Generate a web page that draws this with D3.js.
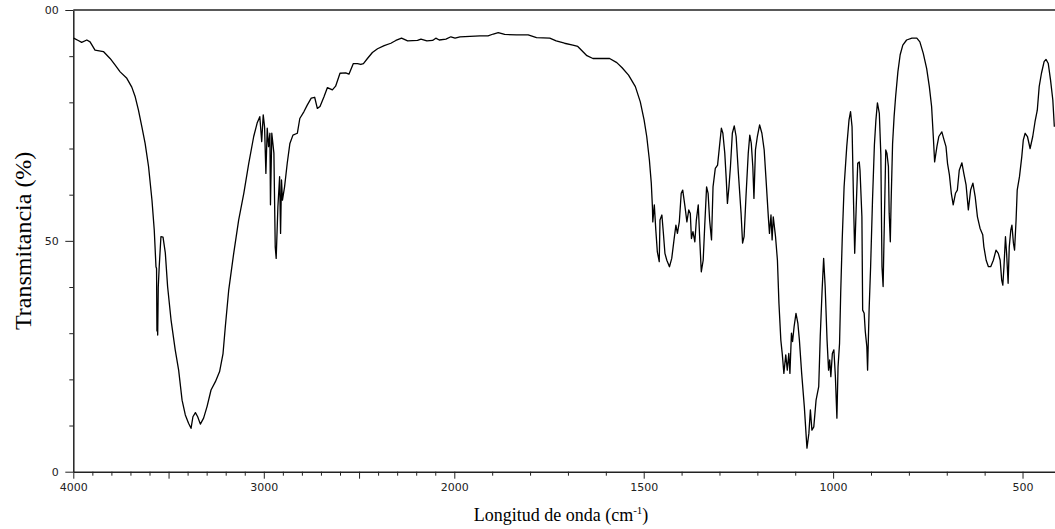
<!DOCTYPE html>
<html>
<head>
<meta charset="utf-8">
<script src="https://cdn.jsdelivr.net/npm/d3@7"></script>
<style>
  body { margin: 0; background: #fff; }
  svg { display: block; }
</style>
</head>
<body>
<div id="chart"></div>
<script>
// IR spectrum (cm-1, %T)
const wavenumber = [
  3998,3974,3956,3929,3912,3886,3842,3807,3781,3754,3719,3693,3675,3658,3640,3623,3605,3587,3575,3566,
  3563,3561,3559,3557,3554,3549,3540,3529,3517,3505,3487,3465,3447,3429,3412,3395,3382,3372,3359,3347,
  3333,3316,3298,3277,3254,3232,3214,3202,3184,3158,3132,3105,3079,3053,3035,3021,3011,3003,2996,2989,
  2982,2975,2968,2965,2958,2947,2940,2935,2926,2917,2912,2907,2902,2891,2877,2863,2847,2824,2811,2789,
  2772,2751,2733,2719,2705,2684,2666,2640,2623,2600,2570,2553,2530,2508,2491,2477,2456,2430,2403,2368,
  2333,2307,2277,2245,2193,2175,2144,2114,2097,2079,2044,2018,1998,1985,1932,1911,1897,1884,1867,1836,
  1805,1783,1748,1731,1709,1687,1674,1661,1650,1634,1590,1571,1557,1540,1522,1509,1499,1492,1485,1480,
  1477,1476,1472,1468,1464,1459,1457,1452,1448,1444,1439,1432,1426,1420,1415,1411,1406,1401,1397,1391,
  1386,1381,1377,1374,1370,1365,1361,1356,1352,1348,1343,1339,1334,1330,1326,1321,1317,1311,1305,1300,
  1295,1291,1286,1282,1279,1275,1271,1266,1261,1256,1250,1243,1239,1235,1230,1224,1220,1216,1212,1209,
  1205,1200,1194,1188,1182,1177,1171,1168,1164,1161,1158,1152,1147,1143,1138,1134,1130,1125,1121,1117,
  1114,1110,1107,1103,1098,1093,1089,1083,1076,1071,1069,1064,1060,1056,1051,1045,1038,1034,1029,1025,
  1021,1016,1012,1009,1006,1002,998,994,990,987,983,980,976,971,964,958,954,950,946,943,
  939,935,931,929,924,922,918,915,911,909,905,901,896,891,887,883,878,874,871,868,
  866,861,858,854,852,849,847,843,839,835,829,823,816,806,792,779,771,762,753,746,
  740,735,732,726,721,713,707,702,698,693,688,683,677,672,667,660,655,649,643,637,
  631,625,619,612,605,602,596,590,584,577,570,564,559,555,552,549,545,542,538,535,
  531,528,524,521,517,514,508,502,498,493,487,480,473,467,461,456,450,443,438,432,
  426,420,416
];
const transmittance = [
  93.9,93.4,93.0,93.5,93.1,91.3,91.0,89.5,88.1,86.6,85.2,83.3,81.2,78.3,74.7,71.1,66.1,58.8,52.3,44.4,
  44.0,30.5,33.0,29.6,40.0,44.4,50.9,50.8,47.4,40.1,32.9,26.4,22.0,15.5,12.3,10.5,9.4,11.9,12.8,11.9,
  10.3,11.6,14.1,17.7,19.5,21.7,25.6,31.4,39.4,47.3,54.5,60.3,66.8,72.6,75.5,76.9,71.5,77.3,74.7,64.6,
  74.4,70.4,73.3,57.8,73.3,69.0,48.7,46.2,57.4,63.9,51.6,63.2,58.8,61.7,66.8,71.1,72.9,73.3,76.5,78.0,
  79.4,80.9,81.1,78.7,79.1,81.2,83.2,82.7,83.5,86.3,86.4,86.1,88.4,88.4,88.2,88.4,89.5,90.8,91.6,92.3,
  92.8,93.4,93.9,93.3,93.4,93.7,93.3,93.4,93.9,93.5,93.7,94.2,93.9,94.2,94.4,94.4,94.8,95.1,94.7,94.6,
  94.6,94.0,93.9,93.3,92.8,92.4,92.1,91.0,90.1,89.5,89.5,88.6,87.5,85.9,83.4,80.1,76.2,72.6,67.5,62.5,
  57.4,54.1,57.8,52.3,47.6,45.5,54.5,55.6,51.6,47.3,45.8,44.4,46.2,50.2,53.4,51.6,54.1,60.3,61.0,57.4,
  54.1,56.7,55.9,50.5,52.0,49.8,54.5,57.8,50.2,43.3,45.8,53.1,61.7,60.3,54.5,50.2,61.7,65.7,66.4,70.4,
  74.4,73.3,69.0,63.2,58.1,61.7,66.1,73.3,74.9,72.6,64.6,56.0,49.5,50.9,59.6,69.0,72.9,71.1,66.1,59.2,
  69.7,72.6,75.1,73.3,69.7,63.2,55.2,51.6,55.6,50.2,55.2,50.9,45.8,36.5,28.5,25.3,21.3,25.3,22.0,25.6,
  21.3,30.0,28.2,31.4,34.3,32.1,28.5,21.3,14.1,7.6,5.1,8.3,13.4,9.0,9.7,15.5,18.4,29.2,39.4,46.2,
  40.1,28.5,22.0,24.2,20.6,25.6,26.4,20.6,11.6,22.7,27.8,38.6,50.2,61.7,70.4,76.2,78.0,74.7,58.1,47.3,
  57.4,66.8,67.1,65.3,55.2,35.0,34.3,30.3,27.1,22.0,35.0,44.4,58.8,70.8,76.2,79.9,77.6,68.6,44.4,40.1,
  48.7,69.7,69.0,66.1,56.0,49.8,58.1,71.1,76.9,81.2,86.6,90.3,92.4,93.5,93.9,93.9,93.1,90.6,87.3,83.4,
  79.1,71.8,67.1,70.4,72.6,73.6,71.8,70.4,66.8,64.3,60.3,57.8,60.3,61.0,65.3,66.9,64.6,62.1,56.7,61.0,
  62.5,59.6,55.2,52.7,51.3,48.7,45.8,44.4,44.4,45.8,48.0,47.3,45.8,41.5,40.4,44.4,50.9,47.3,40.8,48.7,
  52.3,53.4,49.5,48.0,54.5,61.0,63.9,68.2,71.8,73.3,72.6,70.0,72.6,75.8,78.3,83.4,86.3,88.8,89.3,88.4,
  84.8,80.5,74.7
];
const xTickLabels = [4000, 3000, 2000, 1500, 1000, 500];
const yTickLabels = [0, 50, 100];

const width = 1055, height = 529;
const svg = d3.select('#chart').append('svg').attr('width', width).attr('height', height);

// the x scale doubles its resolution below 2000 cm-1
const x = d3.scaleLinear().domain([4000, 2000, 400]).range([73.3, 454.3, 1060.4]);
const y = d3.scaleLinear().domain([0, 100]).range([471.7, 10]);

const tickFont = "'DejaVu Sans', sans-serif";

const xAxis = svg.append('g').attr('transform', `translate(0,${y(0)})`)
  .call(d3.axisBottom(x).tickValues(d3.range(4000, 399, -100)).tickSizeOuter(0)
    .tickFormat(d => xTickLabels.includes(d) ? d : ''));
xAxis.selectAll('.tick line').attr('y2', d => d % 500 === 0 ? 7 : 4);
xAxis.selectAll('.tick text').attr('y', 12).attr('dy', '0.71em');

const yAxis = svg.append('g').attr('transform', `translate(${x(4000)},0)`)
  .call(d3.axisLeft(y).tickValues(d3.range(0, 101, 10)).tickSizeOuter(0)
    .tickFormat(d => yTickLabels.includes(d) ? d : ''));
yAxis.selectAll('.tick line').attr('x2', d => d % 50 === 0 ? -8 : -4);
yAxis.selectAll('.tick text').attr('x', -14.5).attr('dy', '0.32em');

// the top label is cut off on the left in the original
svg.append('clipPath').attr('id', 'cut100')
  .append('rect').attr('x', -28.8).attr('y', -20).attr('width', 40).attr('height', 40);
yAxis.selectAll('.tick text').filter(d => d === 100).attr('clip-path', 'url(#cut100)');

[xAxis, yAxis].forEach(a => {
  a.select('.domain').attr('stroke', '#222').attr('stroke-width', 1.5);
  a.selectAll('.tick line').attr('stroke', '#222');
  a.selectAll('.tick text').attr('font-family', tickFont).attr('font-size', 11).attr('fill', '#222');
});

// top frame
svg.append('line')
  .attr('x1', x(4000)).attr('x2', x(400)).attr('y1', y(100)).attr('y2', y(100))
  .attr('stroke', '#222').attr('stroke-width', 1.5);

const points = wavenumber.map((w, i) => [w, transmittance[i]]);
svg.append('path').datum(points)
  .attr('fill', 'none').attr('stroke', '#000').attr('stroke-width', 1.3)
  .attr('stroke-linejoin', 'round')
  .attr('d', d3.line().x(d => x(d[0])).y(d => y(d[1])));

// axis titles
svg.append('text')
  .attr('transform', `translate(31,${(y(0) + y(100)) / 2}) rotate(-90)`)
  .attr('text-anchor', 'middle')
  .attr('font-family', "'Liberation Serif', 'Times New Roman', serif")
  .attr('font-size', 24)
  .text('Transmitancia (%)');

const xt = svg.append('text')
  .attr('x', 561).attr('y', 521)
  .attr('text-anchor', 'middle')
  .attr('font-family', "'Liberation Serif', 'Times New Roman', serif")
  .attr('font-size', 18);
xt.append('tspan').text('Longitud de onda (cm');
xt.append('tspan').attr('font-size', 11).attr('dy', -7).text('-1');
xt.append('tspan').attr('dy', 7).text(')');
</script>
</body>
</html>
